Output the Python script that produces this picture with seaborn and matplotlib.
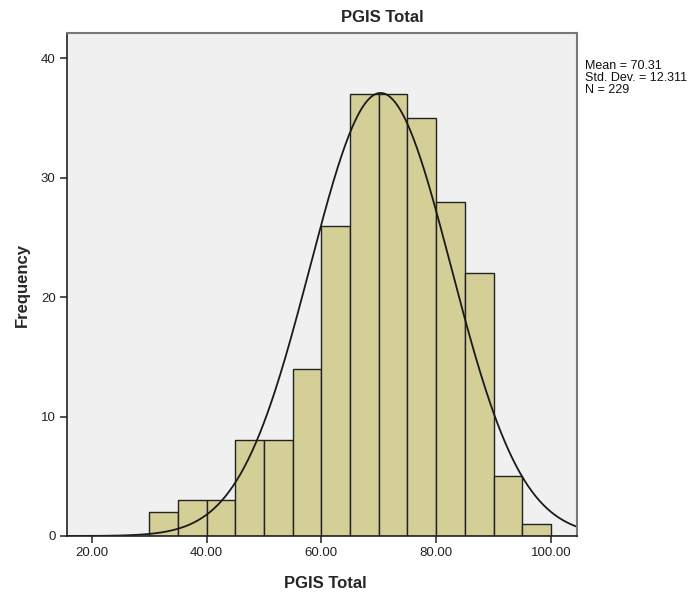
import numpy as np
import matplotlib
matplotlib.use("Agg")
import matplotlib.pyplot as plt
import seaborn as sns

# Data
bin_edges = [30, 35, 40, 45, 50, 55, 60, 65, 70, 75, 80, 85, 90, 95, 100]
counts = [2, 3, 3, 8, 8, 14, 26, 37, 37, 35, 28, 22, 5, 1]
mean_val = 70.31
std_val = 12.311
n_val = 229
x_ticks = [20, 40, 60, 80, 100]
x_ticklabels = ["20.00", "40.00", "60.00", "80.00", "100.00"]
y_ticks = [0, 10, 20, 30, 40]

sns.set_theme(style="white")
plt.rcParams['font.family'] = ['Liberation Sans', 'DejaVu Sans']

fig = plt.figure(figsize=(6.99, 5.98), dpi=100)
ax = fig.add_axes([66.7/699, 1-536/598, (576.7-66.7)/699, (536-33.3)/598])
ax.set_facecolor("#F0F0F0")

mids = [(bin_edges[i] + 2.5) for i in range(len(counts))]
edges = bin_edges + [bin_edges[-1] + 5]
sns.histplot(x=mids, weights=counts, bins=edges, ax=ax,
             color="#D3CF97", edgecolor="#222222", linewidth=1.0, alpha=1.0)

xs = np.linspace(15.6, 104.5, 400)
binw = 5
ys = n_val * binw / (std_val * np.sqrt(2*np.pi)) * np.exp(-0.5*((xs-mean_val)/std_val)**2)
ax.plot(xs, ys, color="#1a1a1a", lw=1.3)

ax.set_xlim(15.6, 104.5)
ax.set_ylim(0, 42.1)
ax.set_xticks(x_ticks)
ax.set_xticklabels(x_ticklabels)
ax.set_yticks(y_ticks)
ax.tick_params(axis='both', direction='out', length=5, width=1.2, color="#333333",
               labelsize=9.5, labelcolor="#222222", pad=3, bottom=True, left=True)
for side in ['left', 'bottom']:
    ax.spines[side].set_color("#222222")
    ax.spines[side].set_linewidth(1.2)
for side in ['top', 'right']:
    ax.spines[side].set_color("#777777")
    ax.spines[side].set_linewidth(1.5)
ax.set_xlabel("")
ax.set_ylabel("")

fig.text(382/699, 1-17/598, "PGIS Total", ha='center', va='center',
         fontsize=12, fontweight='bold')
fig.text(325/699, 1-583/598, "PGIS Total", ha='center', va='center',
         fontsize=12, fontweight='bold')
fig.text(22/699, 1-285/598, "Frequency", ha='center', va='center',
         fontsize=12, fontweight='bold', rotation=90)
fig.text(585/699, 1-60/598, "Mean = %.2f\nStd. Dev. = %.3f\nN = %d" % (mean_val, std_val, n_val),
         ha='left', va='top', fontsize=9, color="#111111", linespacing=1.0)

fig.savefig("out.png", dpi=100)
